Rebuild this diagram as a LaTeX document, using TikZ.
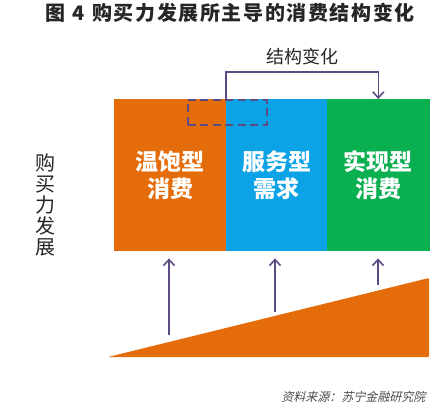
\documentclass[tikz,border=0pt]{standalone}
\usepackage{fontspec}
\setmainfont{Noto Sans CJK SC}
\newfontfamily\srcfont{Noto Sans CJK SC}[FakeSlant=0.25]
\newfontfamily\titlefont{Noto Sans CJK SC}[LetterSpace=8]
\definecolor{Satcol}{HTML}{E46C0A}
\definecolor{Svccol}{HTML}{0CA2E6}
\definecolor{Realcol}{HTML}{0AAF50}
\definecolor{Arrcol}{HTML}{5C4A84}
\definecolor{Textcol}{HTML}{262626}
\definecolor{Srccol}{HTML}{4A4A4A}
\usetikzlibrary{arrows.meta, positioning}
\tikzset{
    >={Straight Barb[length=6pt, width=11pt, line width=1.6pt]},
    block/.style={minimum height=152pt, inner sep=0pt, align=center, text=white,
        font=\fontsize{23}{27}\selectfont\bfseries},
    flow/.style={->, Arrcol, line width=1.6pt}
}

\begin{document}
\begin{tikzpicture}[x=1pt, y=-1pt]
    \useasboundingbox (0,0) rectangle (444,405);

    % Title
    \node[font=\fontsize{20}{24}\titlefont\bfseries, text=Textcol] (title) at (230,13) {图\hspace{7pt}4\hspace{8pt}购买力发展所主导的消费结构变化};

    % Consumption blocks
    \node[block, fill=Satcol, minimum width=112pt, anchor=north west] (sat) at (114,99) {温饱型\\消费};
    \node[block, fill=Svccol, minimum width=101pt, right=-0.6pt of sat] (svc) {服务型\\需求};
    \node[block, fill=Realcol, minimum width=103pt, right=-0.6pt of svc] (real) {实现型\\消费};

    % Dashed overlap box
    \node[draw=Arrcol, line width=1.6pt, dash pattern=on 8pt off 4.5pt, minimum width=79pt, minimum height=25pt,
        inner sep=0pt, anchor=north west] (shift) at (187,99) {};

    % Structure change bracket
    \draw[flow] (svc.north west) -- ++(0,-27) -| (real.north);
    \node[font=\fontsize{18}{22}\selectfont, text=Textcol] (change) at (302,57) {结构变化};

    % Purchasing power ramp
    \coordinate (rampL) at (108,357);
    \coordinate (rampR) at (429,278);
    \coordinate (rampB) at (429,357);
    \fill[Satcol, rounded corners=1pt] (rampL) -- (rampR) -- (rampB) -- cycle;

    % Arrows from ramp to blocks
    \coordinate (foot1) at (169,335);
    \coordinate (foot2) at (275,312);
    \coordinate (foot3) at (378,285);
    \draw[flow, shorten >=7pt] (foot1) -- (foot1 |- sat.south);
    \draw[flow, shorten >=7pt] (foot2) -- (foot2 |- svc.south);
    \draw[flow, shorten >=7pt] (foot3) -- (foot3 |- real.south);

    % Side label
    \node[font=\fontsize{20}{21}\selectfont, text=Textcol, align=center] (power) at (45,205) {购\\买\\力\\发\\展};

    % Source
    \node[font=\fontsize{12}{14}\selectfont\srcfont, text=Srccol, anchor=east] (source) at (429,397) {资料来源：苏宁金融研究院};
\end{tikzpicture}
\end{document}
